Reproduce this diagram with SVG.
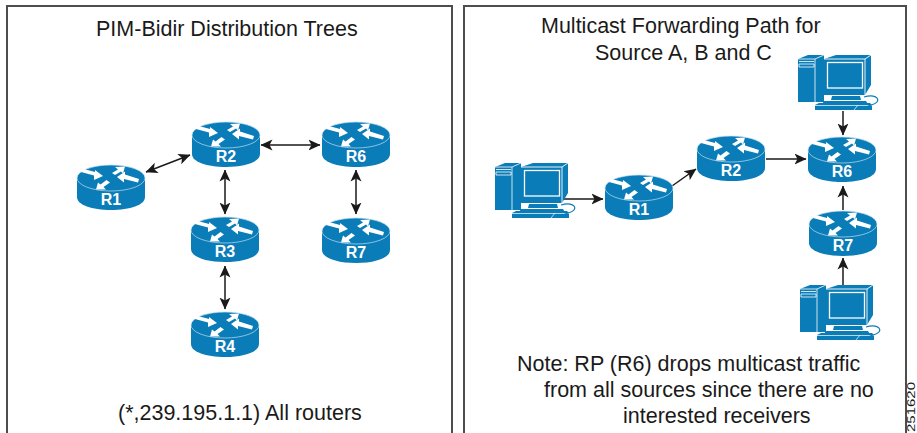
<svg xmlns="http://www.w3.org/2000/svg" width="917" height="433" viewBox="0 0 917 433">
<style>
text{font-family:"Liberation Sans",Arial,sans-serif;fill:#1a1a1a}
.t{font-size:21.5px}
.n{font-size:16px;font-weight:bold;fill:#fff;text-anchor:middle}
.f{fill:none;stroke:#4d4d4d;stroke-width:2}
.c{fill:none;stroke:#1a1a1a;stroke-width:1.5;marker-start:url(#a);marker-end:url(#a)}
.o{fill:none;stroke:#1a1a1a;stroke-width:1.5;marker-end:url(#a)}
.b{fill:#0a7cb8}
</style>
<defs>
<marker id="a" viewBox="0 0 12 12" refX="11.5" refY="6" markerWidth="12" markerHeight="12" markerUnits="userSpaceOnUse" orient="auto-start-reverse"><path d="M0 0.5L12 6L0 11.5L3 6Z" fill="#1a1a1a"/></marker>
<g id="router">
<path class="b" d="M-34 0V19C-34 27-19 32 0 32S34 27 34 19V0Z"/>
<ellipse class="b" cx="0" cy="0" rx="34" ry="13" stroke="#bfe0f0" stroke-width=".7"/>
<path fill="#fff" d="M-8-2L-16-8L-16-6L-29-9.500L-30-6L-17-2.500L-17 2ZM6-1L14-6.500L14-3.500L28 1L27 4.500L13 1L13 4.500ZM14-11.500L4-11L7-8.500L1-5L4-3L10-6.500L12-4.500ZM-15 11.500L-5 11.500L-7.500 9L-1 4.500L-4.500 2L-10.500 6.500L-13 4.500Z"/>
</g>
<g id="pc">
<path class="b" d="M0 4L10 0H26V47H0Z"/>
<path d="M0 4H17L26 0M17 4V47" fill="none" stroke="#fff" stroke-width=".8"/>
<path d="M1 6.500H16M1 9H16V12H1Z" fill="none" stroke="#fff" stroke-width=".8"/>
<path class="b" d="M26 4L38 0H73V30L67 40H26Z"/>
<path d="M26 4H67L73 0M67 4V40" fill="none" stroke="#fff" stroke-width=".9"/>
<rect x="29.500" y="7.500" width="35" height="25.500" fill="none" stroke="#fff" stroke-width="1.300"/>
<path class="b" d="M34 41H62L63 45H33ZM26 46H68L70 49H24ZM17 50L21 48H72L74 50V55H17Z"/>
<path d="M17 50.500H74M60 50L56 55" fill="none" stroke="#fff" stroke-width=".7"/>
<path d="M66 42C76 39 82 43 79 47C76 51 70 49 66 54" fill="none" stroke="#0a7cb8" stroke-width="1.200"/>
</g>
</defs>
<rect width="917" height="433" fill="#fff"/>
<path class="f" d="M7 433V6H452V433"/>
<path class="f" d="M464 433V6H906V433"/>
<g id="connectors">
<path class="c" d="M146 172L190 155"/>
<path class="c" d="M261 145H320"/>
<path class="c" d="M225 170V214"/>
<path class="c" d="M356 170V214"/>
<path class="c" d="M225 266V309"/>
<path class="o" d="M563 199H603"/>
<path class="o" d="M672 186L696 169"/>
<path class="o" d="M766 159H806"/>
<path class="o" d="M843 111V135"/>
<path class="o" d="M843 210V186"/>
<path class="o" d="M843 285V258"/>
</g>
<g id="R1"><use href="#router" x="111" y="178"/><text class="n" x="111" y="205">R1</text></g>
<g id="R2"><use href="#router" x="226" y="135"/><text class="n" x="226" y="162">R2</text></g>
<g id="R6"><use href="#router" x="356" y="135"/><text class="n" x="356" y="162">R6</text></g>
<g id="R3"><use href="#router" x="225" y="230"/><text class="n" x="225" y="257">R3</text></g>
<g id="R7"><use href="#router" x="356" y="231"/><text class="n" x="356" y="258">R7</text></g>
<g id="R4"><use href="#router" x="225" y="325"/><text class="n" x="225" y="352">R4</text></g>
<g id="R1b"><use href="#router" x="639" y="188"/><text class="n" x="639" y="215">R1</text></g>
<g id="R2b"><use href="#router" x="731" y="149"/><text class="n" x="731" y="176">R2</text></g>
<g id="R6b"><use href="#router" x="842" y="150"/><text class="n" x="842" y="177">R6</text></g>
<g id="R7b"><use href="#router" x="843" y="224"/><text class="n" x="843" y="251">R7</text></g>
<g id="pcA"><use href="#pc" x="495" y="163"/></g>
<g id="pcB"><use href="#pc" x="798" y="55"/></g>
<g id="pcC"><use href="#pc" x="800" y="285"/></g>
<g id="labels">
<text class="t" x="96" y="36">PIM-Bidir Distribution Trees</text>
<text class="t" x="541" y="33">Multicast Forwarding Path for</text>
<text class="t" x="595" y="60">Source A, B and C</text>
<text class="t" x="118" y="420">(*,239.195.1.1) All routers</text>
<text class="t" x="517" y="371">Note: RP (R6) drops multicast traffic</text>
<text class="t" x="544" y="397">from all sources since there are no</text>
<text class="t" x="623" y="423">interested receivers</text>
<text font-size="11" textLength="50" lengthAdjust="spacingAndGlyphs" transform="translate(914.500,432) rotate(-90)">251620</text>
</g>
</svg>
